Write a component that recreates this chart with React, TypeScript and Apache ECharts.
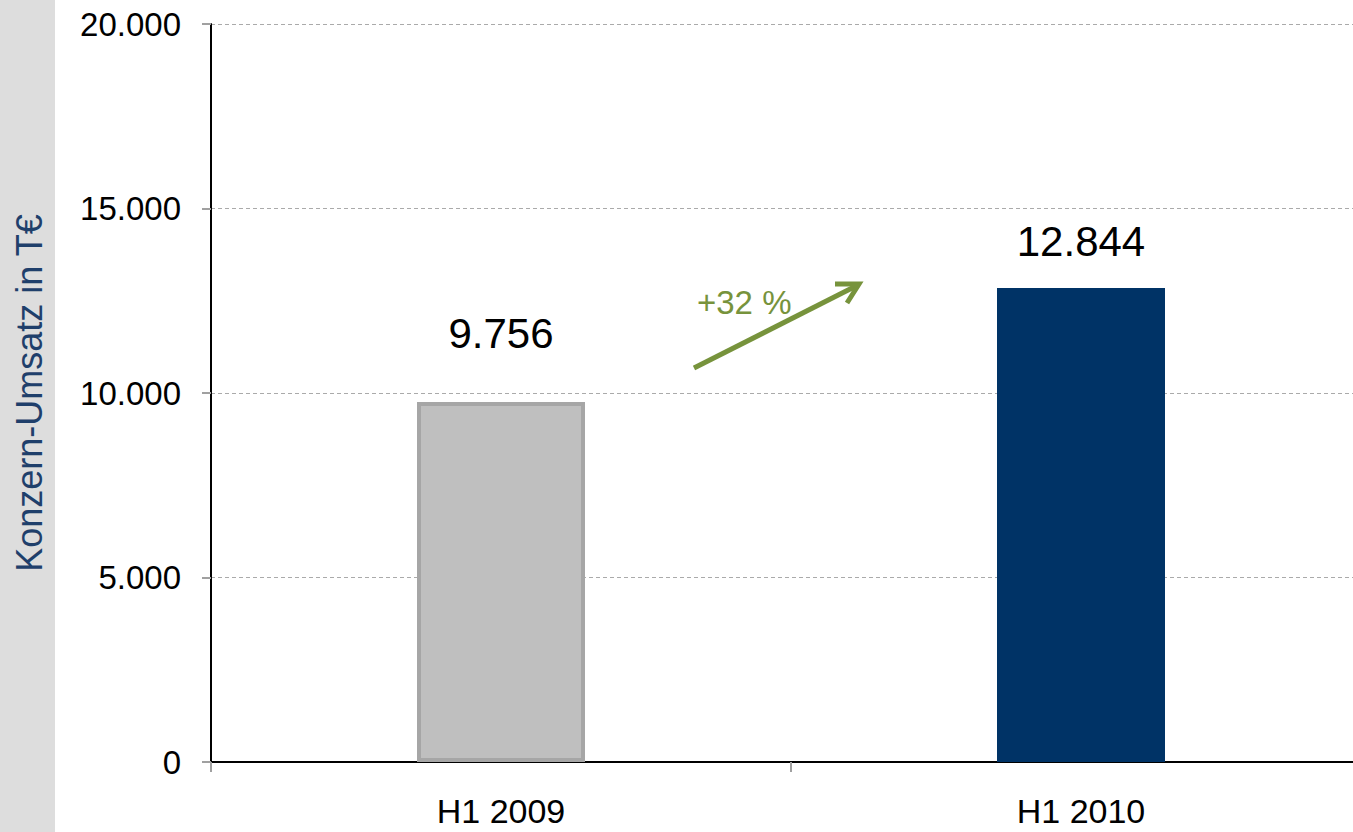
import React, { useEffect, useRef } from "react";
import * as echarts from "echarts";

const categories = ["H1 2009", "H1 2010"];
const values = [9756, 12844];
const barColors = ["#BFBFBF", "#003366"];
const yTicks = [0, 5000, 10000, 15000, 20000];
const growthLabel = "+32 %";
const axisTitle = "Konzern-Umsatz in T€";

const fmt = (v: number) => String(v).replace(/\B(?=(\d{3})+(?!\d))/g, ".");

export default function App() {
  const ref = useRef<HTMLDivElement>(null);
  useEffect(() => {
    const chart = echarts.init(ref.current!, null, { renderer: "svg" });
    const font = "Liberation Sans, Arial, sans-serif";
    chart.setOption({
      animation: false,
      backgroundColor: "#FFFFFF",
      grid: { left: 211, right: 1, top: 24, bottom: 70 },
      xAxis: {
        type: "category",
        data: categories,
        boundaryGap: true,
        axisLine: { show: true, lineStyle: { color: "#000", width: 2 } },
        axisTick: { show: true, length: 10, lineStyle: { color: "#A0A0A0", width: 2 } },
        axisLabel: { color: "#000", fontSize: 34, fontFamily: font, margin: 32 },
      },
      yAxis: {
        type: "value",
        min: yTicks[0],
        max: yTicks[yTicks.length - 1],
        interval: 5000,
        name: axisTitle,
        nameLocation: "middle",
        nameGap: 164,
        nameTextStyle: { color: "#1F3F6B", fontSize: 36, fontFamily: font },
        axisLine: { show: true, lineStyle: { color: "#000", width: 2 } },
        axisTick: { show: true, length: 9, lineStyle: { color: "#A0A0A0", width: 2 } },
        axisLabel: { color: "#000", fontSize: 33, fontFamily: font, margin: 30, formatter: (v: number) => fmt(v) },
        splitLine: { show: true, lineStyle: { color: "#AAAAAA", type: [4, 3], width: 1 } },
      },
      graphic: [
        { type: "rect", left: 0, top: 0, shape: { x: 0, y: 0, width: 55, height: 832 }, style: { fill: "#DDDDDD" }, z: -10 },
        { type: "line", shape: { x1: 694, y1: 368, x2: 858, y2: 285 }, style: { stroke: "#77933C", lineWidth: 5 }, z: 10 },
        { type: "polyline", shape: { points: [[835, 284], [859, 284], [847, 303]] }, style: { stroke: "#77933C", lineWidth: 5, fill: "none" }, z: 10 },
        { type: "text", x: 697, y: 302, style: { text: growthLabel, fill: "#77933C", fontSize: 33, fontFamily: font, textVerticalAlign: "middle" }, z: 11 },
      ],
      series: [
        {
          type: "bar",
          barWidth: 168,
          data: values.map((v, i) => ({
            value: v,
            itemStyle: i === 0
              ? { color: barColors[0], borderColor: "#A6A6A6", borderWidth: 4 }
              : { color: barColors[1] },
            label: { distance: i === 0 ? 48 : 26 },
          })),
          label: {
            show: true,
            position: "top",
            color: "#000",
            fontSize: 42,
            fontFamily: font,
            formatter: (p: any) => fmt(p.value),
          },
        },
      ],
    });
    return () => chart.dispose();
  }, []);
  return (
    <div style={{ position: "absolute", left: 0, top: 0, width: 1353, height: 832, overflow: "hidden" }}>
      <div ref={ref} style={{ width: 1372, height: 832 }} />
    </div>
  );
}
